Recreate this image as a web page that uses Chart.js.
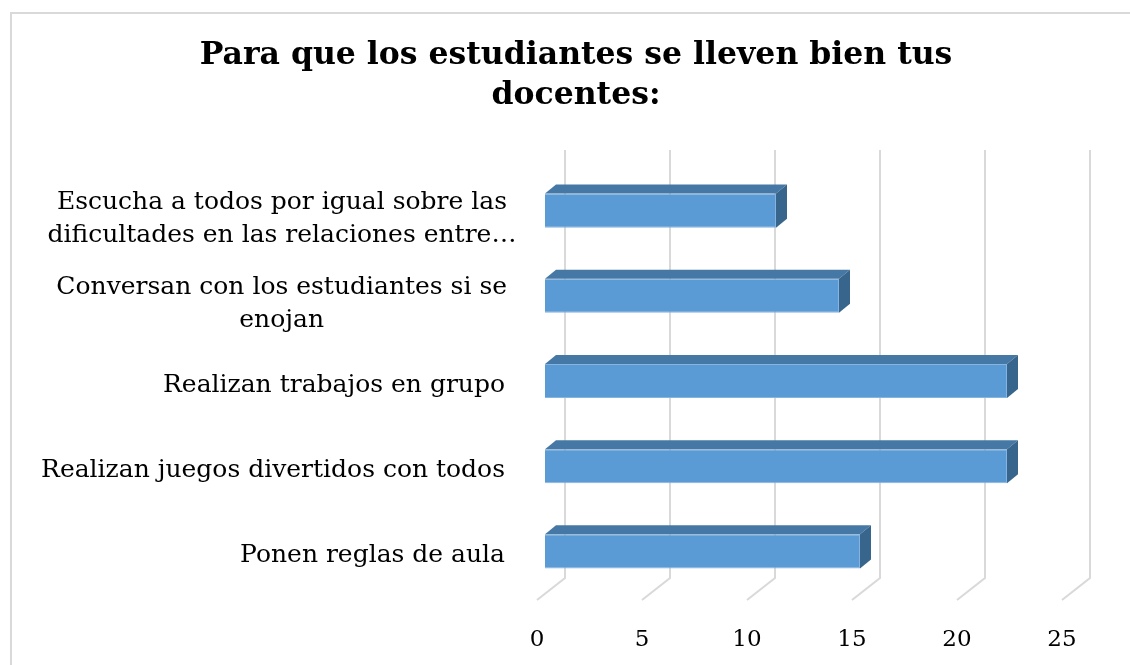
<!DOCTYPE html>
<html>
<head>
<meta charset="utf-8">
<script src="https://cdn.jsdelivr.net/npm/chart.js@4/dist/chart.umd.min.js"></script>
<style>
  html, body { margin: 0; padding: 0; background: #ffffff; }
  #wrap { width: 1130px; height: 665px; position: relative; }
</style>
</head>
<body>
<div id="wrap"><canvas id="c" width="1130" height="665"></canvas></div>
<script>
const titleLines = ["Para que los estudiantes se lleven bien tus", "docentes:"];
const categories = [
  ["Escucha a todos por igual sobre las", "dificultades en las relaciones entre…"],
  ["Conversan con los estudiantes si se", "enojan"],
  "Realizan trabajos en grupo",
  "Realizan juegos divertidos con todos",
  "Ponen reglas de aula"
];
const values = [11, 14, 22, 22, 15];
const xTicks = [0, 5, 10, 15, 20, 25];

const FONT = "'DejaVu Serif', Georgia, serif";
const DEPTH_X = 11, DEPTH_Y = 9;

const framePlugin = {
  id: 'frame',
  beforeDraw(chart) {
    const ctx = chart.ctx;
    ctx.save();
    ctx.fillStyle = '#ffffff';
    ctx.fillRect(0, 0, chart.width, chart.height);
    ctx.strokeStyle = '#D9D9D9';
    ctx.lineWidth = 2;
    ctx.strokeRect(11, 13, chart.width + 20, chart.height + 20);
    ctx.restore();
  }
};

const gridPlugin = {
  id: 'grid3d',
  beforeDatasetsDraw(chart) {
    const ctx = chart.ctx, xs = chart.scales.x;
    ctx.save();
    ctx.strokeStyle = '#D9D9D9';
    ctx.lineWidth = 2;
    xs.ticks.forEach(t => {
      const px = xs.getPixelForValue(t.value);
      ctx.beginPath();
      ctx.moveTo(px + 20, 150);
      ctx.lineTo(px + 20, 578);
      ctx.lineTo(px - 8, 600);
      ctx.stroke();
    });
    ctx.restore();
  }
};

const barsPlugin = {
  id: 'bars3d',
  afterDatasetsDraw(chart) {
    const ctx = chart.ctx;
    const meta = chart.getDatasetMeta(0);
    ctx.save();
    meta.data.forEach(el => {
      const p = el.getProps(['x', 'y', 'base', 'height'], true);
      const top = p.y - p.height / 2, bottom = p.y + p.height / 2;
      ctx.beginPath();
      ctx.moveTo(p.base, top);
      ctx.lineTo(p.base + DEPTH_X, top - DEPTH_Y);
      ctx.lineTo(p.x + DEPTH_X, top - DEPTH_Y);
      ctx.lineTo(p.x, top);
      ctx.closePath();
      ctx.fillStyle = '#4678A5';
      ctx.fill();
      ctx.beginPath();
      ctx.moveTo(p.x, top);
      ctx.lineTo(p.x + DEPTH_X, top - DEPTH_Y);
      ctx.lineTo(p.x + DEPTH_X, bottom - DEPTH_Y);
      ctx.lineTo(p.x, bottom);
      ctx.closePath();
      ctx.fillStyle = '#38658C';
      ctx.fill();
    });
    ctx.restore();
  }
};

const labelPlugin = {
  id: 'catLabels',
  afterDraw(chart) {
    const ctx = chart.ctx, ys = chart.scales.y;
    ctx.save();
    ctx.font = "25px " + FONT;
    ctx.fillStyle = '#000000';
    ctx.textBaseline = 'middle';
    const right = 505;
    categories.forEach((lab, i) => {
      const cy = ys.getPixelForTick(i);
      if (Array.isArray(lab)) {
        const w1 = ctx.measureText(lab[0]).width;
        const cx = right + 2 - w1 / 2;
        const lh = 33;
        const y0 = cy + 8 - (lab.length - 1) * lh / 2;
        ctx.textAlign = 'center';
        lab.forEach((line, j) => ctx.fillText(line, cx, y0 + j * lh));
      } else {
        ctx.textAlign = 'right';
        ctx.fillText(lab, right, cy + 4);
      }
    });
    ctx.restore();
  }
};

new Chart(document.getElementById('c'), {
  type: 'bar',
  data: {
    labels: categories,
    datasets: [{
      data: values,
      backgroundColor: '#5B9BD5',
      borderColor: '#86B3E0',
      borderWidth: 1,
      barPercentage: 0.4,
      categoryPercentage: 1.0
    }]
  },
  options: {
    indexAxis: 'y',
    responsive: false,
    animation: false,
    devicePixelRatio: 1,
    layout: { padding: { left: 82, right: 60, top: 0, bottom: 0 } },
    plugins: {
      legend: { display: false },
      tooltip: { enabled: false },
      title: {
        display: true,
        text: titleLines,
        color: '#000000',
        font: { family: FONT, size: 31.5, weight: 'bold', lineHeight: 1.27 },
        padding: { top: 36, bottom: 52 }
      }
    },
    scales: {
      x: {
        min: 0,
        max: 25,
        afterBuildTicks(scale) { scale.ticks = xTicks.map(v => ({ value: v })); },
        afterFit(scale) { scale.height = 71; },
        grid: { display: false, drawTicks: false },
        border: { display: false },
        ticks: {
          color: '#000000',
          font: { family: FONT, size: 23 },
          padding: 32,
          labelOffset: -8,
          maxRotation: 0
        }
      },
      y: {
        afterFit(scale) { scale.width = 463; },
        grid: { display: false, drawTicks: false },
        border: { display: false },
        ticks: { display: false }
      }
    }
  },
  plugins: [framePlugin, gridPlugin, barsPlugin, labelPlugin]
});
</script>
</body>
</html>
